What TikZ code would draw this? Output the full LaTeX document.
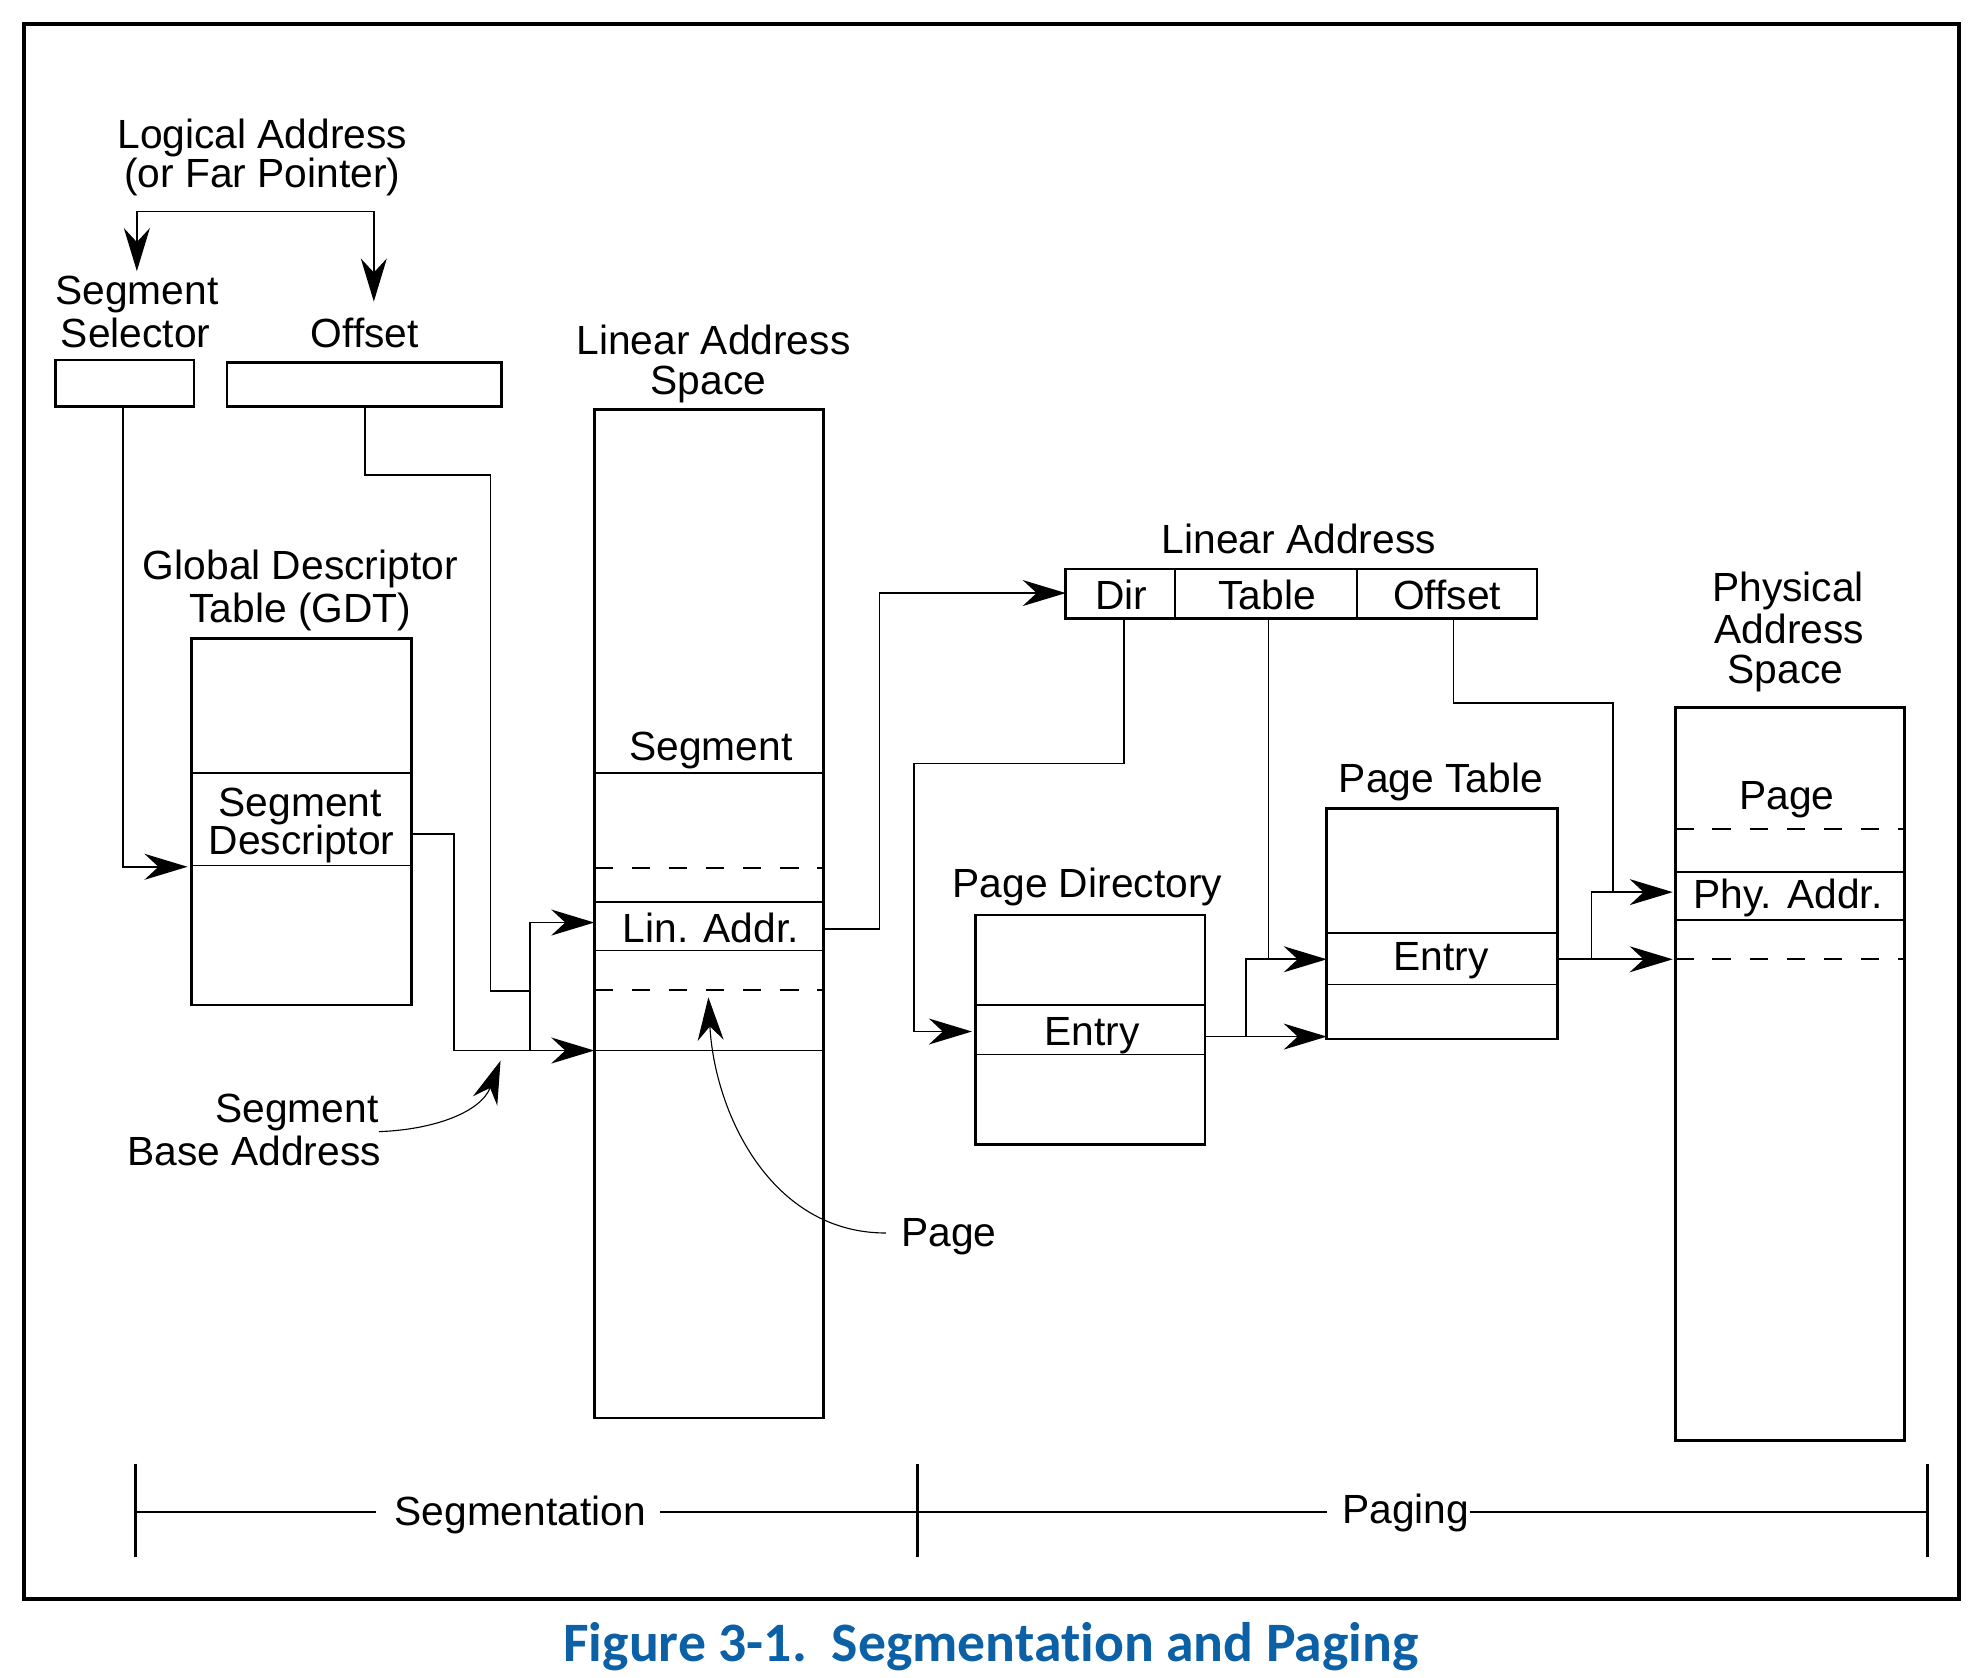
\documentclass[tikz,border=0pt]{standalone}
\usepackage{fontspec}
\setmainfont{Liberation Sans}
\newfontfamily\capfont[Ligatures=NoCommon]{Carlito}
\usetikzlibrary{arrows.meta}
\definecolor{capblue}{RGB}{11,96,166}
\begin{document}
\begin{tikzpicture}[x=0.02cm,y=-0.02cm,
  box/.style={draw, line width=1.2pt, inner sep=0pt, outer sep=0pt},
  sep/.style={line width=0.75pt},
  dsep/.style={line width=0.75pt, dash pattern=on 8.2pt off 8.5pt},
  conn/.style={line width=0.75pt},
  thin conn/.style={line width=0.5pt},
  tip/.tip={Stealth[length=0.68cm,width=0.41cm,inset=0.22cm]},
  arr/.style={-tip},
  lbl/.style={font=\fontsize{18.3}{20}\selectfont, inner sep=0pt, anchor=base},
  lblr/.style={lbl, anchor=base east},
  lbll/.style={lbl, anchor=base west},
  tick/.style={line width=1.2pt},
  scale line/.style={line width=0.9pt}
]
\useasboundingbox (0,0) rectangle (1568,1324);
\draw[line width=1.8pt] (19,19) rectangle (1546,1262);

% ---------------- boxes
\node[box,minimum width=2.18cm,minimum height=0.74cm] (sel) at (98.5,302.5) {};
\node[box,minimum width=4.34cm,minimum height=0.70cm] (offb) at (287.5,303.5) {};
\node[box,minimum width=3.48cm,minimum height=5.78cm] (gdt) at (238,648.5) {};
\node[box,minimum width=3.62cm,minimum height=15.92cm] (las) at (559.5,721) {};
\node[box,minimum width=7.44cm,minimum height=0.78cm] (la) at (1027,468.5) {};
\node[box,minimum width=3.62cm,minimum height=3.62cm] (pd) at (860.5,812.5) {};
\node[box,minimum width=3.64cm,minimum height=3.64cm] (pt) at (1138,729) {};
\node[box,minimum width=3.62cm,minimum height=11.58cm] (pas) at (1412.5,847.5) {};

% dividers of the linear address
\draw[sep] (927,449) -- (927,488);
\draw[sep] (1071,449) -- (1071,488);

% inner rows
\draw[sep] (151,610) -- (325,610);
\draw[sep] (151,683) -- (325,683);

\draw[sep]  (469,610) -- (650,610);
\draw[dsep] (469,685) -- (650,685);
\draw[sep]  (469,712) -- (650,712);
\draw[sep]  (469,750) -- (650,750);
\draw[dsep] (469,781) -- (650,781);
\draw[sep]  (469,829) -- (650,829);

\draw[sep] (770,793) -- (951,793);
\draw[sep] (770,832) -- (951,832);

\draw[sep] (1047,736.5) -- (1229,736.5);
\draw[sep] (1047,777) -- (1229,777);

\draw[dsep] (1322,654) -- (1503,654);
\draw[sep]  (1322,688) -- (1503,688);
\draw[sep]  (1322,726) -- (1503,726);
\draw[dsep] (1322,757) -- (1503,757);

% ---------------- labels
\node[lbl] (lal1) at (207,117) {Logical Address};
\node[lbl] (lal2) at (207,148) {(or Far Pointer)};
\node[lbl] (ssl1) at (108,240) {Segment};
\node[lbl] (ssl2) at (107,274) {Selector};
\node[lbl] (offl) at (288,274) {Offset};
\node[lbl] (lasl1) at (563,280) {Linear Address};
\node[lbl] (lasl2) at (559,311) {Space};
\node[lbl] (gdtl1) at (237,457) {Global Descriptor};
\node[lbl] (gdtl2) at (237,491) {Table (GDT)};
\node[lbl] (sdl1) at (237,644) {Segment};
\node[lbl] (sdl2) at (238,674) {Descriptor};
\node[lbl] (segl) at (561,600) {Segment};
\node[lbl] (linl) at (561,744) {Lin. Addr.};
\node[lblr] (sbal1) at (299,885.5) {Segment};
\node[lblr] (sbal2) at (301,919.5) {Base Address};
\node[lbll] (pagel) at (711,984) {Page};
\node[lbl] (lal) at (1025,437) {Linear Address};
\node[lbl] (dirl) at (885,481) {Dir};
\node[lbl] (tabl) at (1000,481) {Table};
\node[lbl] (ofsl) at (1142,481) {Offset};
\node[lbl] (pasl1) at (1411,475) {Physical};
\node[lbl] (pasl2) at (1412,507.5) {Address};
\node[lbl] (pasl3) at (1409,539) {Space};
\node[lbl] (ppage) at (1410,639) {Page};
\node[lbl] (phyl) at (1411,717) {Phy. Addr.};
\node[lbl] (ptl) at (1137,625) {Page Table};
\node[lbl] (pte) at (1137,766) {Entry};
\node[lbl] (pdl) at (858,708) {Page Directory};
\node[lbl] (pde) at (862,825) {Entry};
\node[lbll] (segm) at (311,1203.5) {Segmentation};
\node[lbll] (pagi) at (1059,1202) {Paging};

% ---------------- connectors
\draw[conn,tip-tip] (108,214) -- (108,167) -- (295,167) -- (295,238);

\draw[conn,arr] (97,321) -- (97,684) -- (148,684);
\coordinate (sum) at (418,782);
\draw[conn] (288,321) -- (288,375) -- (387,375) -- (387,782) -- (sum);
\draw[conn,arr] (gdt.east |- 0,658) -- (358,658) -- (358,829) -- (las.west |- 0,829);
\draw[conn,arr] (418,829) -- (418,728) -- (las.west |- 0,728);

\draw[conn,arr] (las.east |- 0,733) -- (694,733) -- (694,468) -- (la.west |- 0,468);
\draw[conn,arr] (887,488) -- (887,602.5) -- (721,602.5) -- (721,814) -- (767,814);
\draw[conn,arr] (pd.east |- 0,818) -- (pt.west |- 0,818);
\draw[conn,arr] (983,818) -- (983,757) -- (pt.west |- 0,757);
\draw[conn] (1001,488) -- (1001,757);
\draw[conn,arr] (pt.east |- 0,757) -- (1320,757);
\draw[conn,arr] (1256,757) -- (1256,704) -- (1320,704);
\draw[conn] (1147,488) -- (1147,555) -- (1273,555) -- (1273,704);

\draw[thin conn,arr] (sbal1.east |- 0,893) to[out=2,in=-111] (395,837);
\draw[thin conn,arr] (699,973) to[out=180,in=-87] (559,787);

% ---------------- scale
\draw[tick] (107,1155) -- (107,1229);
\draw[tick] (724,1155) -- (724,1229);
\draw[tick] (1521,1155) -- (1521,1229);
\draw[scale line] (107,1193) -- (297,1193);
\draw[scale line] (521,1193) -- (1047,1193);
\draw[scale line] (1160,1193) -- (1521,1193);

% ---------------- caption
\node[font=\capfont\bfseries\fontsize{25}{28}\selectfont, text=capblue, inner sep=0pt, anchor=base] (cap) at (782,1311) {Figure 3-1.\hspace{0.45em}Segmentation and Paging};
\end{tikzpicture}
\end{document}
